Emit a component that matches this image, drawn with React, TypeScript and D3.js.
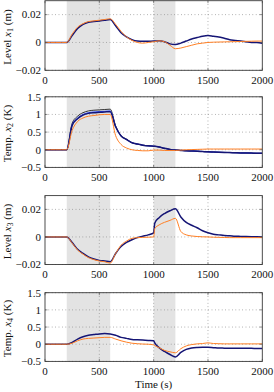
import React from "react";
import * as d3 from "d3";

// sample times (s)
const time = [
  0, 50, 100, 150, 200, 250, 300, 350, 400, 450, 500, 550, 600, 650, 700, 750,
  800, 850, 900, 950, 1000, 1010, 1050, 1100, 1150, 1200, 1250, 1300, 1350,
  1400, 1450, 1500, 1550, 1600, 1650, 1700, 1750, 1800, 1850, 1900, 1950, 2000,
];

// level x1 (m)
const x1Meas = [
  0, 0, 0, 0, 0, 0.005, 0.01, 0.013, 0.0145, 0.015, 0.0155, 0.016, 0.0165,
  0.012, 0.007, 0.004, 0.002, 0.001, 0.0008, 0.0008, 0.001, 0.001, 0.0012,
  0.0005, -0.001, -0.0015, -0.0005, 0.001, 0.0025, 0.0035, 0.0045, 0.005,
  0.0045, 0.004, 0.003, 0.002, 0.0015, 0.001, 0.0005, 0, 0, -0.0005,
];
const x1Model = [
  0, 0, 0, 0, 0, 0.006, 0.011, 0.0135, 0.015, 0.0155, 0.016, 0.0165, 0.017,
  0.013, 0.008, 0.004, 0.0015, 0, -0.0005, 0, 0.0005, 0.0006, 0.0012, 0.0005,
  -0.002, -0.0045, -0.004, -0.003, -0.002, -0.001, -0.0005, 0, 0.0002, 0.0003,
  0.0004, 0.0005, 0.0006, 0.0007, 0.0008, 0.0009, 0.001, 0.001,
];

// temperature x2 (K)
const x2Black = [
  0, 0, 0, 0, 0, 0.75, 0.95, 1.05, 1.1, 1.12, 1.13, 1.14, 1.15, 0.68, 0.4, 0.3,
  0.2, 0.16, 0.13, 0.11, 0.1, 0.098, 0.08, 0.04, 0.01, -0.01, -0.02, -0.03,
  -0.035, -0.04, -0.05, -0.06, -0.065, -0.07, -0.075, -0.08, -0.085, -0.09,
  -0.09, -0.095, -0.1, -0.1,
];
const x2Blue = [
  0, 0, 0, 0, 0, 0.71, 0.9, 1.0, 1.05, 1.07, 1.08, 1.09, 1.1, 0.66, 0.39, 0.29,
  0.2, 0.16, 0.13, 0.11, 0.1, 0.098, 0.08, 0.04, 0.01, -0.01, -0.02, -0.03,
  -0.035, -0.04, -0.05, -0.06, -0.065, -0.07, -0.075, -0.08, -0.085, -0.09,
  -0.09, -0.095, -0.1, -0.1,
];
const x2Meas = [
  0, 0, 0, 0, 0, 0.69, 0.88, 0.98, 1.03, 1.05, 1.06, 1.07, 1.08, 0.65, 0.39,
  0.29, 0.2, 0.16, 0.13, 0.11, 0.1, 0.098, 0.08, 0.04, 0.01, -0.01, -0.02,
  -0.03, -0.035, -0.04, -0.05, -0.06, -0.065, -0.07, -0.075, -0.08, -0.085,
  -0.09, -0.09, -0.095, -0.1, -0.1,
];
const x2Model = [
  0, 0, 0, 0, 0, 0.55, 0.8, 0.9, 0.95, 0.97, 0.99, 1.0, 1.0, 0.4, 0.15, 0.05, 0,
  -0.02, -0.03, -0.03, -0.01, -0.01, -0.01, -0.02, -0.02, -0.02, -0.01, 0,
  0.005, 0.01, 0.015, 0.02, 0.02, 0.02, 0.02, 0.02, 0.02, 0.02, 0.02, 0.02,
  0.02, 0.02,
];

// level x3 (m)
const x3Meas = [
  0, 0, 0, 0, 0, -0.004, -0.009, -0.012, -0.0145, -0.016, -0.017, -0.0175,
  -0.018, -0.012, -0.007, -0.004, -0.002, -0.0005, 0.0005, 0.0015, 0.003, 0.01,
  0.014, 0.017, 0.019, 0.0205, 0.0145, 0.0105, 0.0085, 0.0067, 0.0045, 0.003,
  0.002, 0.0015, 0.001, 0.0008, 0.0005, 0.0004, 0.0003, 0.0002, 0.0001, 0,
];
const x3Model = [
  0, 0, 0, 0, 0, -0.0045, -0.0095, -0.0125, -0.015, -0.0165, -0.0175, -0.018,
  -0.019, -0.012, -0.006, -0.003, -0.001, -0.0005, -0.0003, -0.0002, 0, 0.006,
  0.0087, 0.0106, 0.012, 0.0135, 0.004, 0.0015, 0.0007, 0.0003, 0.0001, 0,
  -0.0002, -0.0003, -0.0004, -0.0005, -0.0005, -0.0005, -0.0005, -0.0005,
  -0.0005, -0.0005,
];

// temperature x4 (K)
const x4Meas = [
  0, 0, 0, 0, 0, 0.05, 0.15, 0.22, 0.26, 0.28, 0.3, 0.31, 0.3, 0.26, 0.2, 0.17,
  0.14, 0.13, 0.12, 0.11, 0.1, 0.04, -0.1, -0.21, -0.3, -0.37, -0.24, -0.15,
  -0.11, -0.095, -0.09, -0.09, -0.1, -0.11, -0.115, -0.12, -0.12, -0.12, -0.12,
  -0.12, -0.125, -0.125,
];
const x4Model = [
  0, 0, 0, 0, 0, 0.03, 0.1, 0.15, 0.17, 0.18, 0.19, 0.2, 0.2, 0.15, 0.1, 0.06,
  0.03, 0.015, 0.005, 0, -0.02, -0.04, -0.1, -0.18, -0.22, -0.25, -0.13, -0.05,
  -0.01, 0.01, 0.02, 0.04, 0.02, 0.015, 0.01, 0.01, 0.01, 0.01, 0.01, 0.01,
  0.01, 0.01,
];

const shaded = [
  [200, 600],
  [1000, 1200],
];
const xTicks = [0, 500, 1000, 1500, 2000];
const levelTicks = [-0.02, 0, 0.02];
const tempTicks = [-0.5, 0, 0.5, 1, 1.5];

const fmt = (v: number) => {
  const s = d3.format("~g")(Math.abs(v));
  return v < 0 ? "\u2212" + s : s;
};

const NAVY = "#151575";
const ORANGE = "#ff7f24";
const BLUE = "#1f3dff";
const BLACK = "#333333";

const panels = [
  {
    top: 0.7, bottom: 70.3, domain: [-0.02, 0.03], ticks: levelTicks,
    label: ["Level ", "1", " (m)"],
    series: [
      { v: x1Meas, c: NAVY, w: 1.5 },
      { v: x1Model, c: ORANGE, w: 1 },
    ],
  },
  {
    top: 96.8, bottom: 167.4, domain: [-0.5, 1.5], ticks: tempTicks,
    label: ["Temp. ", "2", " (K)"],
    series: [
      { v: x2Black, c: BLACK, w: 1 },
      { v: x2Blue, c: BLUE, w: 1 },
      { v: x2Meas, c: NAVY, w: 1.5 },
      { v: x2Model, c: ORANGE, w: 1 },
    ],
  },
  {
    top: 195.6, bottom: 264.5, domain: [-0.02, 0.03], ticks: levelTicks,
    label: ["Level ", "3", " (m)"],
    series: [
      { v: x3Meas, c: NAVY, w: 1.5 },
      { v: x3Model, c: ORANGE, w: 1 },
    ],
  },
  {
    top: 292.7, bottom: 361.4, domain: [-0.5, 1.5], ticks: tempTicks,
    label: ["Temp. ", "4", " (K)"],
    series: [
      { v: x4Meas, c: NAVY, w: 1.5 },
      { v: x4Model, c: ORANGE, w: 1 },
    ],
  },
];

const left = 45,
  right = 262.3;
const font = "'Liberation Serif', 'DejaVu Serif', serif";

const Panel = ({ p, idx }: { p: any; idx: number }) => {
  const x = d3.scaleLinear().domain([0, 2000]).range([left, right]);
  const y = d3.scaleLinear().domain(p.domain).range([p.bottom, p.top]);
  const line = d3
    .line<number>()
    .x((d, i) => x(time[i]))
    .y((d) => y(d))
    .curve(d3.curveMonotoneX);
  const cy = (p.top + p.bottom) / 2;
  return (
    <g>
      <defs>
        <clipPath id={"clip" + idx}>
          <rect x={left} y={p.top} width={right - left} height={p.bottom - p.top} />
        </clipPath>
      </defs>
      {shaded.map(([a, b], i) => (
        <rect key={i} x={x(a)} y={p.top} width={x(b) - x(a)} height={p.bottom - p.top} fill="#e3e3e3" />
      ))}
      {/* grid */}
      {xTicks.slice(1, -1).map((t) => (
        <line key={"gx" + t} x1={x(t)} x2={x(t)} y1={p.top} y2={p.bottom} stroke="#8a8a8a" strokeWidth={0.8} strokeDasharray="0.8 2.6" />
      ))}
      {p.ticks.map((t: number) => (
        <line key={"gy" + t} x1={left} x2={right} y1={y(t)} y2={y(t)} stroke="#8a8a8a" strokeWidth={0.8} strokeDasharray="0.8 2.6" />
      ))}
      <g clipPath={`url(#clip${idx})`}>
        {p.series.map((s: any, i: number) => (
          <path key={i} d={line(s.v) || ""} fill="none" stroke={s.c} strokeWidth={s.w} strokeLinejoin="round" />
        ))}
      </g>
      {/* ticks inward on all sides */}
      {xTicks.map((t) => (
        <g key={"tx" + t} stroke="#444" strokeWidth={0.6}>
          <line x1={x(t)} x2={x(t)} y1={p.bottom} y2={p.bottom - 2.5} />
          <line x1={x(t)} x2={x(t)} y1={p.top} y2={p.top + 2.5} />
        </g>
      ))}
      {p.ticks.map((t: number) => (
        <g key={"ty" + t} stroke="#444" strokeWidth={0.6}>
          <line x1={left} x2={left + 2.5} y1={y(t)} y2={y(t)} />
          <line x1={right} x2={right - 2.5} y1={y(t)} y2={y(t)} />
        </g>
      ))}
      <rect x={left} y={p.top} width={right - left} height={p.bottom - p.top} fill="none" stroke="#3a3a3a" strokeWidth={0.9} />
      {xTicks.map((t) => (
        <text key={"lx" + t} x={x(t)} y={p.bottom + 13.7} textAnchor="middle" fontSize={11} fill="#111">
          {fmt(t)}
        </text>
      ))}
      {p.ticks.map((t: number) => (
        <text key={"ly" + t} x={left - 4} y={y(t)} dy="0.35em" textAnchor="end" fontSize={11} fill="#111">
          {fmt(t)}
        </text>
      ))}
      <text transform={`translate(10.5, ${cy + 1.5}) rotate(-90)`} textAnchor="middle" fontSize={11} fill="#111">
        {p.label[0]}
        <tspan fontStyle="italic">x</tspan>
        <tspan fontSize={8} dy={2}>{p.label[1]}</tspan>
        <tspan dy={-2}>{p.label[2]}</tspan>
      </text>
    </g>
  );
};

export default function App() {
  return (
    <svg
      width={274}
      height={392}
      style={{ position: "absolute", left: 0, top: 0, fontFamily: font, background: "#fff" }}
    >
      {panels.map((p, i) => (
        <Panel key={i} p={p} idx={i} />
      ))}
      <text x={(left + right) / 2} y={388} textAnchor="middle" fontSize={11} fill="#111">
        Time (s)
      </text>
    </svg>
  );
}
